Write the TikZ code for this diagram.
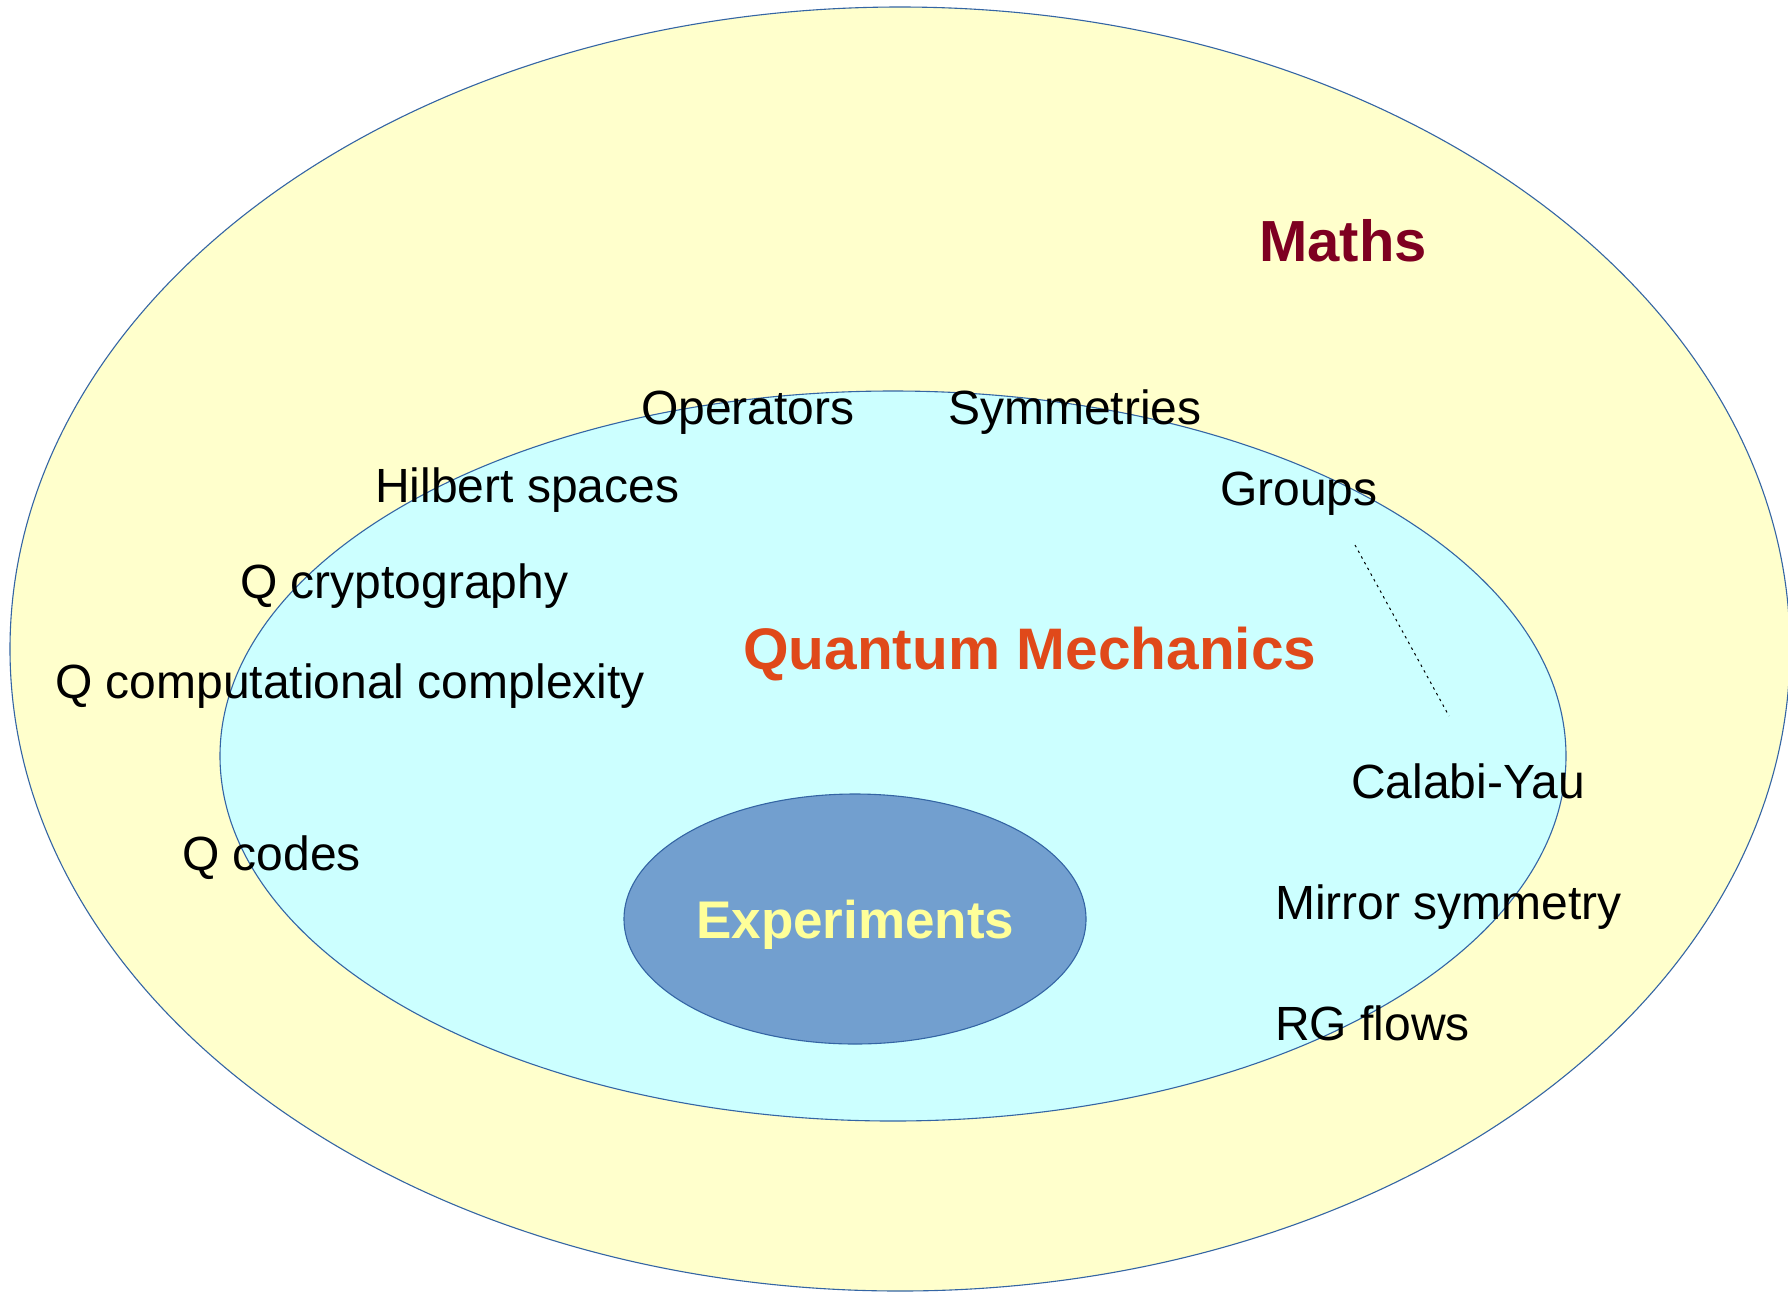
\documentclass[tikz,border=0pt]{standalone}
\usepackage{fontspec}
\setmainfont{Liberation Sans}
\definecolor{mathsfill}{HTML}{FFFFCC}
\definecolor{qmfill}{HTML}{CCFFFF}
\definecolor{expfill}{HTML}{729FCF}
\definecolor{edgeblue}{HTML}{3465A4}
\definecolor{mathstxt}{HTML}{7E0021}
\definecolor{qmtxt}{HTML}{E0491A}
\definecolor{exptxt}{HTML}{FFFF99}
\begin{document}
\begin{tikzpicture}[x=1pt,y=-1pt,
  lab/.style={anchor=base west, inner sep=0pt, text=black, font=\fontsize{48}{58}\selectfont},
  title/.style={anchor=base west, inner sep=0pt, font=\bfseries\fontsize{58}{70}\selectfont},
  region/.style={draw=edgeblue, line width=1.1pt}]
\useasboundingbox (0,0) rectangle (1788,1291);
\fill[white] (0,0) rectangle (1788,1291);
% regions
\filldraw[region, fill=mathsfill] (900,649) ellipse [x radius=890, y radius=642];
\filldraw[region, fill=qmfill] (893,756) ellipse [x radius=673, y radius=365];
\filldraw[region, fill=expfill] (855,919) ellipse [x radius=231, y radius=125];
% titles
\node[title, text=mathstxt] (maths) at (1259,261) {Maths};
\node[title, text=qmtxt, font=\bfseries\fontsize{58.6}{70}\selectfont] (qm) at (743,669) {Quantum Mechanics};
\node[title, text=exptxt, font=\bfseries\fontsize{53}{64}\selectfont] (exp) at (696,938) {Experiments};
% labels
\node[lab] (ops) at (641,424) {Operators};
\node[lab] (sym) at (948,424) {Symmetries};
\node[lab] (hil) at (375,502) {Hilbert spaces};
\node[lab] (grp) at (1220,505) {Groups};
\node[lab] (crypt) at (240,598) {Q cryptography};
\node[lab] (comp) at (55,698) {Q computational complexity};
\node[lab] (cy) at (1351,798) {Calabi-Yau};
\node[lab] (codes) at (182,870) {Q codes};
\node[lab] (mirror) at (1275,919) {Mirror symmetry};
\node[lab] (rg) at (1275,1040) {RG flows};
% dotted connector
\coordinate (d1) at (1355,545);
\coordinate (d2) at (1449,716);
\draw[black, line width=1pt, dash pattern=on 2.5pt off 4pt] (d1) -- (d2);
\end{tikzpicture}
\end{document}
